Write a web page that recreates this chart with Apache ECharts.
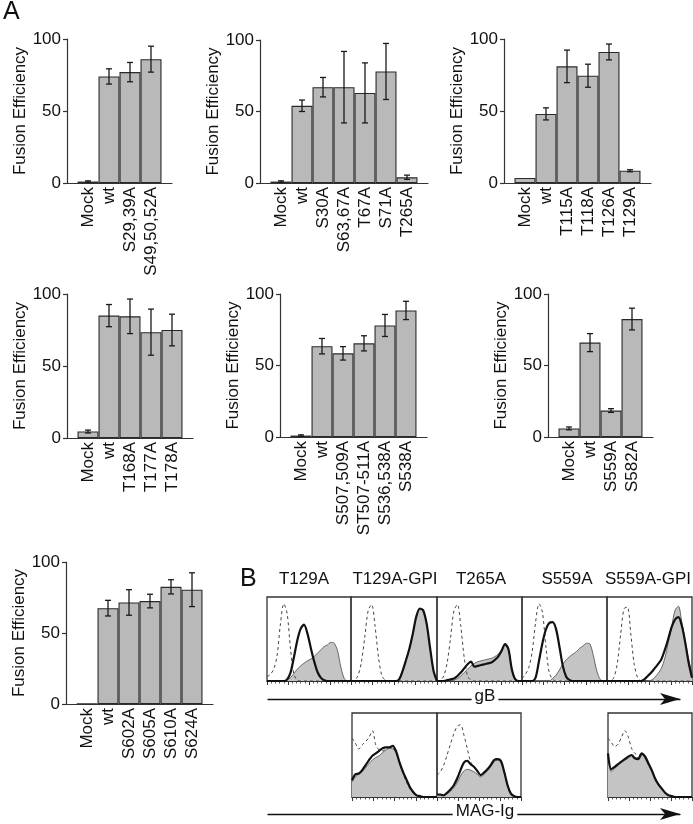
<!DOCTYPE html>
<html><head><meta charset="utf-8">
<script src="https://cdn.jsdelivr.net/npm/echarts@6/dist/echarts.min.js"></script>
<style>html,body{margin:0;padding:0;background:#fff}#c{width:693px;height:824px}</style>
</head><body><div id="c"></div>
<script>
// ---------- Panel A data ----------
const c1Cats = ['Mock','wt','S29,39A','S49,50,52A'];
const c1Vals = [1, 74, 77, 86];
const c1Errs = [0.5, 5.3, 6.7, 9];
const c2Cats = ['Mock','wt','S30A','S63,67A','T67A','S71A','T265A'];
const c2Vals = [1, 54, 67, 67, 63, 78, 4];
const c2Errs = [0.5, 4, 6.8, 25, 21, 19.6, 1.5];
const c3Cats = ['Mock','wt','T115A','T118A','T126A','T129A'];
const c3Vals = [3.5, 48, 81, 74.5, 91, 8.5];
const c3Errs = [0, 4.2, 11.3, 8, 5.5, 0.7];
const c4Cats = ['Mock','wt','T168A','T177A','T178A'];
const c4Vals = [4.5, 85, 84.5, 73.5, 75];
const c4Errs = [1, 7.7, 12, 16, 11];
const c5Cats = ['Mock','wt','S507,509A','ST507-511A','S536,538A','S538A'];
const c5Vals = [1, 63.5, 58.5, 65.5, 78, 88.5];
const c5Errs = [0.5, 5.4, 4.7, 5.3, 7.7, 6.4];
const c6Cats = ['Mock','wt','S559A','S582A'];
const c6Vals = [6, 66, 18.5, 82.5];
const c6Errs = [1, 6.3, 1.3, 7.6];
const c7Cats = ['Mock','wt','S602A','S605A','S610A','S624A'];
const c7Vals = [0.3, 67.5, 71.5, 72.5, 82.5, 80.5];
const c7Errs = [0, 5.5, 9, 4.8, 5, 11.9];
const yTickMax = 100, yTickStep = 50;

// ---------- Panel B data (histograms, % of box height) ----------
const histX = [0,4,8,12,16,20,24,28,32,36,40,44,48,52,56,60,64,68,72,76,80,84,88,92,96,100];
const colTitles = ['T129A','T129A-GPI','T265A','S559A','S559A-GPI'];
const arrowNames = ['gB','MAG-Ig'];
// gB row
const gbT129A_ctrl  = [5,8,14,30,68,92,80,38,8,1,0,0,0,0,0,0,0,0,0,0,0,0,0,0,0,0];
const gbT129A_black = [0,0,0,0,0,0,2,10,28,48,62,67,57,40,24,11,4,1,0,0,0,0,0,0,0,0];
const gbT129A_gray  = [0,0,0,0,0,0,1,4,9,14,18,21,24,26,29,33,37,41,43,46,45,36,16,3,0,0];
const gbT129AG_ctrl  = [0,1,6,22,52,84,91,65,28,6,1,0,0,0,0,0,0,0,0,0,0,0,0,0,0,0];
const gbT129AG_black = [0,0,0,0,0,0,0,0,0,0,0,0,0,0,2,12,25,39,57,77,86,84,68,39,12,0];
const gbT129AG_gray  = [0,0,0,0,0,0,0,0,0,0,0,0,0,0,2,12,25,39,57,77,87,85,68,39,12,0];
const gbT265A_ctrl  = [0,1,6,22,52,84,91,65,28,6,1,0,0,0,0,0,0,0,0,0,0,0,0,0,0,0];
const gbT265A_black = [0,0,0,1,2,3,6,10,15,20,23,17,18,19,20,21,22,25,29,36,44,38,14,2,0,0];
const gbT265A_gray  = [0,0,0,0,0,1,3,6,10,14,18,21,23,24,25,26,27,29,32,37,43,38,15,3,0,0];
const gbS559A_ctrl  = [3,8,16,35,70,92,82,42,10,2,0,0,0,0,0,0,0,0,0,0,0,0,0,0,0,0];
const gbS559A_black = [0,0,0,0,4,24,45,61,69,70,62,41,18,5,1,0,0,0,0,0,0,0,0,0,0,0];
const gbS559A_gray  = [0,0,0,0,0,0,0,0,0,3,7,13,20,25,29,32,35,39,42,45,44,30,12,2,0,0];
const gbS559AG_ctrl  = [0,0,4,20,55,86,88,56,20,4,0,0,0,0,0,0,0,0,0,0,0,0,0,0,0,0];
const gbS559AG_black = [0,0,0,0,0,0,0,0,0,0,0,2,6,10,15,20,26,37,50,64,73,76,66,46,22,4];
const gbS559AG_gray  = [0,0,0,0,0,0,0,0,0,0,0,0,0,1,4,9,15,27,45,64,84,89,70,48,26,8];
// MAG-Ig row
const magT129AG_ctrl  = [70,64,57,62,66,71,79,62,56,55,57,59,58,52,40,28,18,10,5,2,1,0,0,0,0,0];
const magT129AG_black = [20,27,28,32,38,44,49,52,55,58,59,59,61,54,41,30,21,12,6,2,1,0,0,0,0,0];
const magT129AG_gray  = [18,24,27,30,35,40,44,47,49,53,56,58,58,52,40,29,20,11,5,2,1,0,0,0,0,0];
const magT265A_ctrl  = [26,30,38,50,63,75,84,86,74,58,42,36,30,27,30,33,38,44,45,42,30,13,3,1,0,0];
const magT265A_black = [3,3,2,5,9,14,22,32,41,43,39,36,31,26,29,33,38,44,45,43,30,14,4,1,0,0];
const magT265A_gray  = [2,2,2,4,7,11,17,25,31,33,32,30,27,24,27,31,36,42,44,42,30,14,4,1,0,0];
const magS559AG_ctrl  = [70,65,60,63,71,79,72,58,52,50,50,48,40,32,22,15,10,5,2,1,0,0,0,0,0,0];
const magS559AG_black = [52,33,36,39,42,45,48,50,46,45,52,48,40,32,22,15,10,5,2,1,0,0,0,0,0,0];
const magS559AG_gray  = [45,30,34,38,42,44,46,49,47,47,52,50,42,33,23,16,10,5,2,1,0,0,0,0,0,0];

// ---------- layout ----------
const FONT = 'Liberation Sans, Arial, Helvetica, sans-serif';
const INK = '#111';
const AX = '#333';
const BAND = 21;
const barCharts = [
  {cats:c1Cats, vals:c1Vals, errs:c1Errs, left:67,  top:39,  h:144},
  {cats:c2Cats, vals:c2Vals, errs:c2Errs, left:260, top:40,  h:143},
  {cats:c3Cats, vals:c3Vals, errs:c3Errs, left:504, top:39,  h:144},
  {cats:c4Cats, vals:c4Vals, errs:c4Errs, left:67,  top:294, h:144},
  {cats:c5Cats, vals:c5Vals, errs:c5Errs, left:280, top:294, h:143},
  {cats:c6Cats, vals:c6Vals, errs:c6Errs, left:548, top:294, h:143},
  {cats:c7Cats, vals:c7Vals, errs:c7Errs, left:66,  top:562, h:142}
];
const histPanels = [
  {ctrl:gbT129A_ctrl,  black:gbT129A_black,  gray:gbT129A_gray,  left:267, top:597, w:84, h:84},
  {ctrl:gbT129AG_ctrl, black:gbT129AG_black, gray:gbT129AG_gray, left:351, top:597, w:86, h:84},
  {ctrl:gbT265A_ctrl,  black:gbT265A_black,  gray:gbT265A_gray,  left:437, top:597, w:85, h:84},
  {ctrl:gbS559A_ctrl,  black:gbS559A_black,  gray:gbS559A_gray,  left:522, top:597, w:85, h:84},
  {ctrl:gbS559AG_ctrl, black:gbS559AG_black, gray:gbS559AG_gray, left:607, top:597, w:85, h:84},
  {ctrl:magT129AG_ctrl, black:magT129AG_black, gray:magT129AG_gray, left:352, top:713, w:85, h:84},
  {ctrl:magT265A_ctrl,  black:magT265A_black,  gray:magT265A_gray,  left:437, top:713, w:84, h:84},
  {ctrl:magS559AG_ctrl, black:magS559AG_black, gray:magS559AG_gray, left:608, top:713, w:84, h:84}
];
const titleCenters = [304, 395, 481, 567, 648];
const arrowRows = [699, 814];
const arrowCenter = 482;

const grid = [], xAxis = [], yAxis = [], series = [];
let gi = 0;

barCharts.forEach(ch => {
  const n = ch.cats.length;
  grid.push({left: ch.left, top: ch.top, width: BAND * (n + 1), height: ch.h,
    containLabel: false, outerBoundsMode: 'none'});
  xAxis.push({
    gridIndex: gi, type: 'value', min: 0, max: n + 1, interval: 1,
    axisLine: {show: true, onZero: false, lineStyle: {color: AX, width: 1.2}},
    axisTick: {show: false}, splitLine: {show: false},
    axisLabel: {rotate: 90, fontSize: 17, fontFamily: FONT, color: INK, margin: 4,
      formatter: v => (ch.cats[v - 1] !== undefined ? ch.cats[v - 1] : '')}
  });
  yAxis.push({
    gridIndex: gi, type: 'value', min: 0, max: yTickMax, interval: yTickStep,
    name: 'Fusion Efficiency', nameLocation: 'middle', nameGap: 38, nameRotate: 90,
    nameTextStyle: {fontSize: 17, fontFamily: FONT, color: INK},
    axisLine: {show: true, lineStyle: {color: AX, width: 1.2}},
    axisTick: {show: true, length: 4, lineStyle: {color: AX, width: 1.2}},
    axisLabel: {fontSize: 17, fontFamily: FONT, color: INK, margin: 6},
    splitLine: {show: false}
  });
  series.push({
    type: 'bar', xAxisIndex: gi, yAxisIndex: gi, barWidth: BAND,
    data: ch.vals.map((v, k) => [k + 1, v]),
    itemStyle: {color: '#b9b9b9', borderColor: '#2a2a2a', borderWidth: 1.1},
    silent: true, animation: false
  });
  series.push({
    type: 'custom', xAxisIndex: gi, yAxisIndex: gi, z: 10, silent: true, animation: false,
    encode: {x: 0, y: 1},
    data: ch.vals.map((v, k) => [k + 1, v, ch.errs[k]]),
    renderItem: (params, api) => {
      const x = api.value(0), v = api.value(1), e = api.value(2);
      if (!e) return {type: 'group', children: []};
      const t = api.coord([x, v + e]), b = api.coord([x, v - e]);
      const cap = 3;
      const st = {stroke: '#1a1a1a', lineWidth: 1.3};
      return {type: 'group', children: [
        {type: 'line', shape: {x1: t[0], y1: t[1], x2: b[0], y2: b[1]}, style: st},
        {type: 'line', shape: {x1: t[0] - cap, y1: t[1], x2: t[0] + cap, y2: t[1]}, style: st},
        {type: 'line', shape: {x1: b[0] - cap, y1: b[1], x2: b[0] + cap, y2: b[1]}, style: st}
      ]};
    }
  });
  gi++;
});

histPanels.forEach(p => {
  grid.push({left: p.left, top: p.top, width: p.w, height: p.h, show: true,
    borderColor: AX, borderWidth: 1.3, backgroundColor: 'transparent',
    containLabel: false, outerBoundsMode: 'none'});
  xAxis.push({
    gridIndex: gi, type: 'value', min: 0, max: 100, interval: 25,
    axisLine: {show: true, lineStyle: {color: AX, width: 1.2}},
    axisTick: {show: true, length: 4, lineStyle: {color: AX, width: 1}},
    minorTick: {show: true, splitNumber: 5, length: 2.5, lineStyle: {color: AX, width: 0.8}},
    axisLabel: {show: false}, splitLine: {show: false}
  });
  yAxis.push({gridIndex: gi, type: 'value', min: 0, max: 100, show: false});
  const pts = arr => histX.map((x, k) => [x, arr[k]]);
  series.push({type: 'line', xAxisIndex: gi, yAxisIndex: gi, data: pts(p.gray), symbol: 'none',
    smooth: 0.3, lineStyle: {color: '#666', width: 1}, areaStyle: {color: '#c4c4c4', opacity: 1},
    silent: true, animation: false});
  series.push({type: 'line', xAxisIndex: gi, yAxisIndex: gi, data: pts(p.ctrl), symbol: 'none',
    smooth: 0.3, lineStyle: {color: '#444', width: 1, type: [3, 3]}, silent: true, animation: false});
  series.push({type: 'line', xAxisIndex: gi, yAxisIndex: gi, data: pts(p.black), symbol: 'none',
    smooth: 0.3, lineStyle: {color: '#111', width: 2.2}, silent: true, animation: false});
  gi++;
});

// arrow axes (gB and MAG-Ig)
arrowRows.forEach(y => {
  grid.push({left: 268, top: y - 20, width: 412, height: 20, containLabel: false, outerBoundsMode: 'none'});
  xAxis.push({
    gridIndex: gi, type: 'value', min: 0, max: 1, position: 'bottom',
    axisLine: {show: true, onZero: false, symbol: ['none', 'arrow'], symbolSize: [9, 20],
      lineStyle: {color: INK, width: 1.3}},
    axisTick: {show: false}, axisLabel: {show: false}, splitLine: {show: false}
  });
  yAxis.push({gridIndex: gi, type: 'value', min: 0, max: 1, show: false});
  gi++;
});

const title = [
  {text: 'A', left: 3, top: 0, padding: 0, textStyle: {fontSize: 25, fontWeight: 'normal', fontFamily: FONT, color: INK}},
  {text: 'B', left: 240, top: 567, padding: 0, textStyle: {fontSize: 25, fontWeight: 'normal', fontFamily: FONT, color: INK}}
];
colTitles.forEach((t, k) => title.push({text: t, left: titleCenters[k], top: 571, padding: 0, textAlign: 'center',
  textStyle: {fontSize: 17, fontWeight: 'normal', fontFamily: FONT, color: INK}}));
arrowNames.forEach((t, k) => title.push({text: t, left: arrowCenter, top: arrowRows[k] - 11, padding: [0, 3],
  textAlign: 'center', backgroundColor: '#fff',
  textStyle: {fontSize: 17, fontWeight: 'normal', fontFamily: FONT, color: INK}}));

const chart = echarts.init(document.getElementById('c'), null, {renderer: 'canvas'});
chart.setOption({animation: false, backgroundColor: '#fff', title, grid, xAxis, yAxis, series});
</script></body></html>
